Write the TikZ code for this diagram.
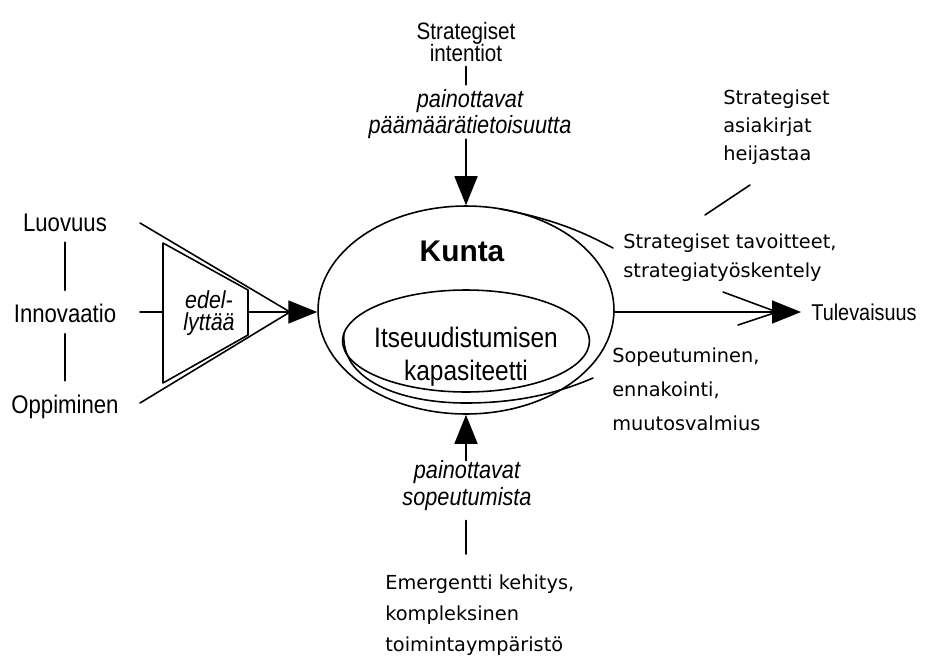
\documentclass[tikz,border=0pt]{standalone}
\usepackage{fontspec}
\setmainfont{Liberation Sans}
\newfontfamily\dejavu{DejaVu Sans}
\newfontfamily\cond[FakeStretch=0.87]{Liberation Sans}
\usepackage{tikz}
\usetikzlibrary{arrows.meta,shapes.geometric}

\begin{document}
\begin{tikzpicture}[line cap=round,line join=round,>={Triangle[length=0.58cm,width=0.46cm]},x=0.02cm,y=-0.02cm,
	ln/.style={line width=0.9pt},
	lbl/.style={font=\cond\fontsize{14.5}{16}\selectfont,inner sep=0pt},
	ital/.style={font=\fontsize{12.6}{15}\selectfont\itshape,inner sep=0pt,align=center},
	note/.style={font=\dejavu\fontsize{11}{17}\selectfont,inner sep=0pt,align=left,anchor=north west}]
		\useasboundingbox (0,0) rectangle (925,656);
		\node [ln,draw,ellipse,minimum width=5.92cm,minimum height=4.16cm,inner sep=0pt] (kunta) at (466,310) {};
		\node [ln,draw,ellipse,minimum width=4.94cm,minimum height=2.04cm,inner sep=0pt] (kyky) at (466,341) {};
		\node [font=\fontsize{17}{20}\selectfont\bfseries] (kuntatxt) at (462,251) {Kunta};
		\node [align=center,font=\cond\fontsize{16}{18.8}\selectfont,inner sep=0pt] (kykytxt) at (466,357) {Itseuudistumisen\\kapasiteetti};
		\draw [ln] (500,209) .. controls (560,220) and (590,236) .. (613,248);
		\draw [ln] (344,333) .. controls (340,380) and (400,403) .. (466,403) .. controls (525,403) and (565,390) .. (593,378);
		% vasen puoli
		\node [lbl] (luovuus) at (65,223) {Luovuus};
		\node [lbl] (innovaatio) at (65,313) {Innovaatio};
		\node [lbl] (oppiminen) at (65,407) {Oppiminen};
		\draw [ln,shorten <=0.2cm,shorten >=0.26cm] (luovuus.south) -- (innovaatio.north);
		\draw [ln,shorten <=0.22cm,shorten >=0.28cm] (innovaatio.south) -- (oppiminen.north);
		\coordinate (f1) at (163,243);
		\coordinate (f2) at (248,290);
		\coordinate (f3) at (248,335);
		\coordinate (f4) at (163,383);
		\coordinate (tip) at (248,312);
		\coordinate (i1) at (140,312);
		\coordinate (o1) at (140,223);
		\coordinate (o2) at (140,403);
		\coordinate (meet) at (290,312);
		\draw [ln] (f1) -- (f2) -- (f3) -- (f4) -- cycle;
		\draw [ln] (i1) -- (i1 -| f1);
		\draw [ln] (o1) -- (meet) -- (o2);
		\node [ital,font=\cond\fontsize{14}{12.5}\selectfont\itshape] (edellyttaa) at (209,313) {edel-\\lyttää};
		\draw [ln,->] (tip) -- (tip -| kunta.west);
		% ylhäällä
		\node [lbl,align=center,font=\cond\fontsize{13.5}{13}\selectfont] (intentiot) at (466,42) {Strategiset\\intentiot};
		\node [ital,font=\cond\fontsize{14.2}{15}\selectfont\itshape] (paamaara) at (470,114) {painottavat\\päämäärätietoisuutta};
		\draw [ln,shorten <=0.08cm,shorten >=0.08cm] (intentiot.south -| kunta.north) -- (paamaara.north -| kunta.north);
		\draw [ln,->] (paamaara.south -| kunta.north) -- (kunta.north);
		% alhaalla
		\node [ital,font=\cond\fontsize{14.2}{15.4}\selectfont\itshape] (sopeutumista) at (467,486) {painottavat\\sopeutumista};
		\node [note,font=\dejavu\fontsize{11}{17.8}\selectfont] (emergentti) at (385,574) {Emergentti kehitys,\\kompleksinen\\toimintaympäristö};
		\draw [ln,->] (sopeutumista.north -| kunta.south) -- (kunta.south);
		\draw [ln,shorten <=0.18cm,shorten >=0.4cm] (sopeutumista.south -| kunta.south) -- (emergentti.north -| kunta.south);
		% oikealla
		\node [lbl,font=\cond\fontsize{13}{15}\selectfont,anchor=west] (tulevaisuus) at (811,312) {Tulevaisuus};
		\draw [ln,->,shorten >=0.2cm] (kunta.east |- tip) -- (tulevaisuus.west);
		\coordinate (w1) at (723,292);
		\coordinate (w2) at (738,325);
		\coordinate (w3) at (777,312);
		\draw [ln] (w1) -- (w3);
		\draw [ln] (w2) -- (w3);
		\node [note] (tavoitteet) at (623,233) {Strategiset tavoitteet,\\strategiatyöskentely};
		\node [note,font=\dejavu\fontsize{11}{19.6}\selectfont] (sopeutuminen) at (612,347) {Sopeutuminen,\\ennakointi,\\muutosvalmius};
		\node [note,font=\dejavu\fontsize{11}{16.2}\selectfont] (asiakirjat) at (723,89) {Strategiset\\asiakirjat\\heijastaa};
		\coordinate (p1) at (705,215);
		\coordinate (p2) at (750,185);
		\draw [ln] (p1) -- (p2);
	\end{tikzpicture}
\end{document}
